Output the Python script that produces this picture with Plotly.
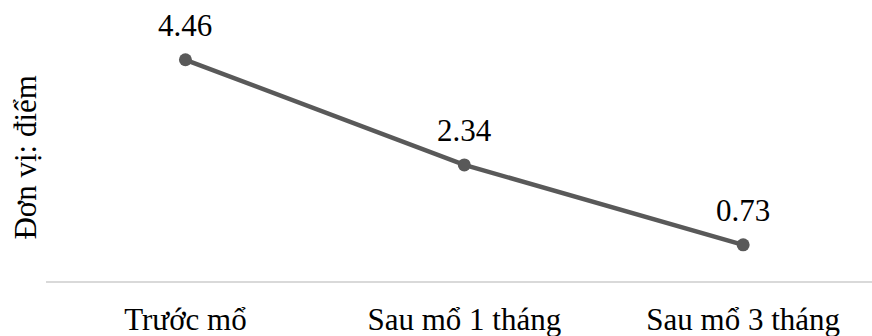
import plotly.graph_objects as go

# Pain score over time
categories = ["Trước mổ", "Sau mổ 1 tháng", "Sau mổ 3 tháng"]
scores = [4.46, 2.34, 0.73]
labels = [f"{v:.2f}" for v in scores]

FONT = "Liberation Serif"
LINE_COLOR = "#595959"
x_idx = list(range(len(categories)))

fig = go.Figure()
fig.add_trace(go.Scatter(
    x=x_idx,
    y=scores,
    mode="lines+markers",
    line=dict(color=LINE_COLOR, width=4.5),
    marker=dict(color=LINE_COLOR, size=13),
    cliponaxis=False,
    showlegend=False,
))

# value labels above each point
annotations = [dict(
    x=xi, y=v, xref="x", yref="y",
    text=t, showarrow=False,
    xanchor="center", yanchor="bottom", yshift=15,
    font=dict(family=FONT, size=31, color="#000000"),
) for xi, v, t in zip(x_idx, scores, labels)]

annotations.append(dict(
    text="Đơn vị: điểm",
    textangle=-90,
    xref="paper", yref="paper",
    x=-0.0248, y=0.441,
    xanchor="center", yanchor="middle",
    showarrow=False,
    font=dict(family=FONT, size=31, color="#000000"),
))

fig.update_layout(
    width=872,
    height=336,
    margin=dict(l=45.5, r=0, t=0, b=55),
    paper_bgcolor="white",
    plot_bgcolor="white",
    font=dict(family=FONT, size=31, color="#000000"),
    xaxis=dict(
        range=[-0.5, 2.462],
        tickmode="array",
        tickvals=x_idx,
        ticktext=categories,
        showgrid=False,
        zeroline=False,
        showline=True,
        linecolor="#D9D9D9",
        linewidth=1.5,
        ticks="",
        ticklabelstandoff=10,
        tickfont=dict(family=FONT, size=31, color="#000000"),
    ),
    yaxis=dict(
        range=[0, 5.665],
        showgrid=False,
        zeroline=False,
        showticklabels=False,
        showline=False,
        ticks="",
    ),
    annotations=annotations,
)

fig.write_html("out.html")
